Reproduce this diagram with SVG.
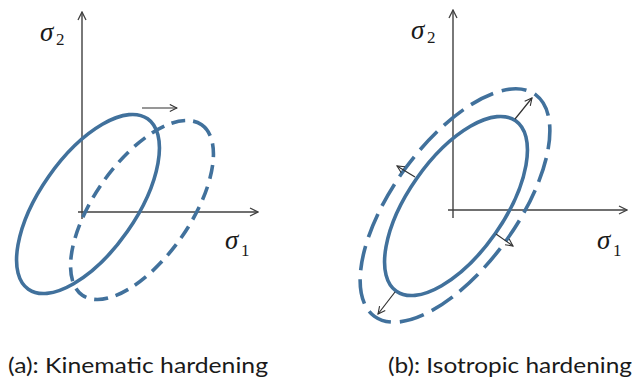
<svg xmlns="http://www.w3.org/2000/svg" width="632" height="380" viewBox="0 0 632 380">
<defs>
<marker id="ah" viewBox="0 0 10 10" refX="9" refY="5" markerWidth="10" markerHeight="10" markerUnits="userSpaceOnUse" orient="auto">
<path d="M1,1 L9,5 L1,9" fill="none" stroke="#404040" stroke-width="1.3"/>
</marker>
<marker id="ahs" viewBox="0 0 10 10" refX="9" refY="5" markerWidth="9" markerHeight="9" markerUnits="userSpaceOnUse" orient="auto">
<path d="M1,1 L9,5 L1,9" fill="none" stroke="#303030" stroke-width="1.2"/>
</marker>
</defs>
<style>
.ax{stroke:#404040;stroke-width:1.4;fill:none;marker-end:url(#ah)}
.ys{fill:none;stroke:#41719C;stroke-width:3.6}
.yd1{fill:none;stroke:#41719C;stroke-width:3.6;stroke-dasharray:14 8}
.yd2{fill:none;stroke:#41719C;stroke-width:3.6;stroke-dasharray:25 9}
.ar{stroke:#303030;stroke-width:1.2;fill:none;marker-end:url(#ahs)}
.sg{font-family:"Liberation Serif",serif;font-style:italic;font-size:27px;fill:#1a1a1a}
.sb{font-family:"Liberation Serif",serif;font-size:17px;fill:#1a1a1a}
.cap{font-family:Lato,"Liberation Sans",sans-serif;font-size:21px;fill:#1a1a1a}
</style>
<g id="panel-a">
<g id="axes-a">
<line class="ax" x1="82" y1="219" x2="82" y2="12"/>
<line class="ax" x1="78" y1="212" x2="258" y2="212"/>
</g>
<g id="yield-initial-a"><ellipse class="ys" cx="88" cy="204" rx="104" ry="48" transform="rotate(-55 88 204)"/></g>
<g id="yield-shifted-a"><ellipse class="yd1" cx="142" cy="210" rx="104" ry="48" transform="rotate(-55 142 210)"/></g>
<g id="label-s2-a"><text class="sg" x="40" y="41">σ</text><text class="sb" x="56" y="45">2</text></g>
<g id="label-s1-a"><text class="sg" x="225" y="249">σ</text><text class="sb" x="241" y="256">1</text></g>
<g id="caption-a"><text class="cap" x="8" y="373" textLength="260" lengthAdjust="spacingAndGlyphs">(a): Kinematic hardening</text></g>
</g>
<g id="panel-b">
<g id="axes-b">
<line class="ax" x1="453" y1="218" x2="453" y2="10"/>
<line class="ax" x1="448" y1="210" x2="627" y2="210"/>
</g>
<g id="yield-initial-b"><ellipse class="ys" cx="456" cy="206" rx="104" ry="48" transform="rotate(-55 456 206)"/></g>
<g id="yield-expanded-b"><ellipse class="yd2" cx="455" cy="205.5" rx="137" ry="62" transform="rotate(-54 455 205.5)"/></g>
<g id="label-s2-b"><text class="sg" x="411" y="39">σ</text><text class="sb" x="427" y="43">2</text></g>
<g id="label-s1-b"><text class="sg" x="597" y="249">σ</text><text class="sb" x="613" y="256">1</text></g>
<g id="caption-b"><text class="cap" x="388" y="373" textLength="244" lengthAdjust="spacingAndGlyphs">(b): Isotropic hardening</text></g>
</g>
<g id="connectors">
<line class="ar" x1="142" y1="108" x2="177" y2="108"/>
<line class="ar" x1="515" y1="119" x2="532" y2="98"/>
<line class="ar" x1="415" y1="177" x2="397" y2="166"/>
<line class="ar" x1="496" y1="234" x2="513" y2="246"/>
<line class="ar" x1="395" y1="292" x2="378" y2="314"/>
</g>
</svg>
